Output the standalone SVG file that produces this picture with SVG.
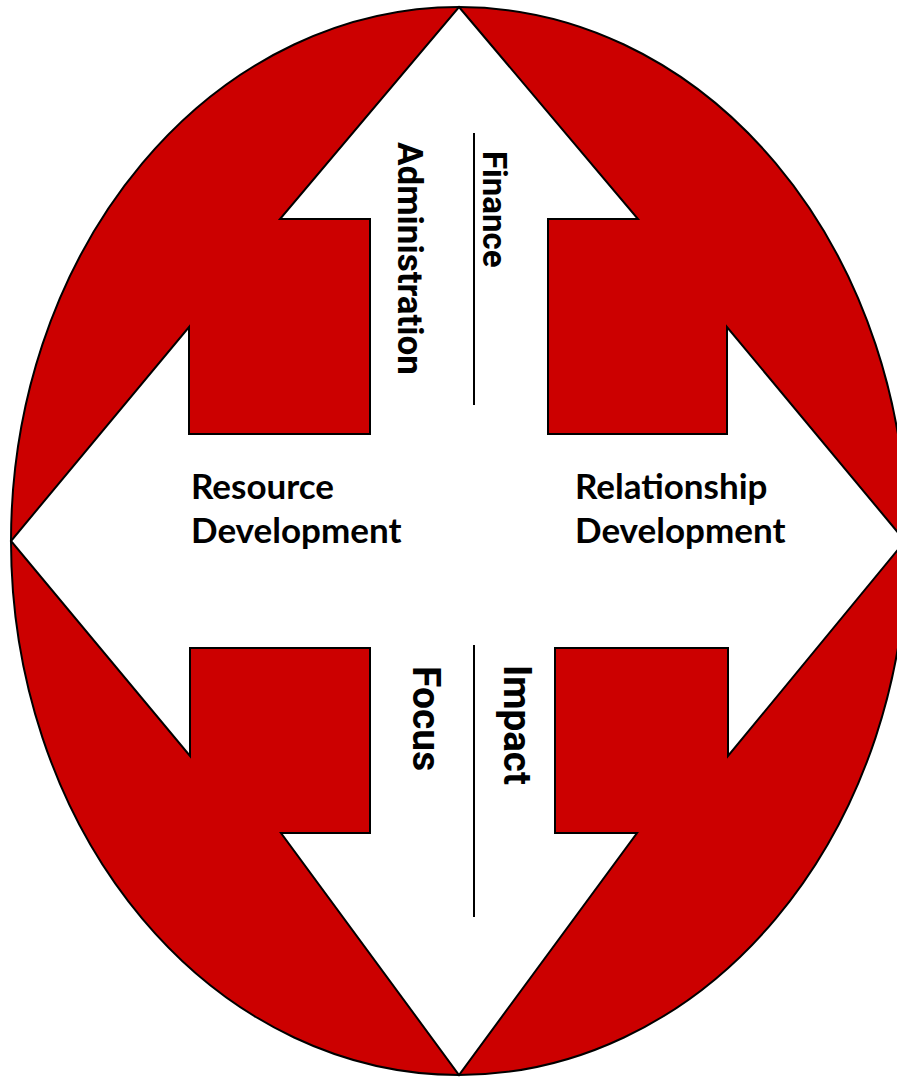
<svg xmlns="http://www.w3.org/2000/svg" width="897" height="1078" viewBox="0 0 897 1078">
  <style>
    .field { fill: #cc0000; stroke: #000; stroke-width: 2; }
    .cross { fill: #fff; stroke: #000; stroke-width: 2; stroke-linejoin: miter; }
    .rule { stroke: #000; stroke-width: 2; fill: none; }
    .hlabel { font-family: Lato, "Liberation Sans", sans-serif; font-weight: 700; font-size: 35px; fill: #000; }
    .vlabel { font-family: Roboto, "Liberation Sans", Arial, sans-serif; font-weight: 700; fill: #000; }
  </style>
  <rect width="897" height="1078" fill="#fff"/>

  <!-- red oval background -->
  <g id="oval">
    <ellipse class="field" cx="459" cy="541" rx="448" ry="534"/>
  </g>

  <!-- white four-way arrow -->
  <g id="cross-arrow">
    <polygon class="cross" points="459,7 638,219 548,219 548,434 727,434 727,327 905,541 728,756 728,648 555,648 555,833 637,833 459,1075 281,833 370,833 370,648 190,648 190,756 11,541 189,327 189,434 370,434 370,219 280,219"/>
  </g>

  <!-- divider rules in the vertical shaft -->
  <g id="connectors">
    <line class="rule" x1="474" y1="133" x2="474" y2="405"/>
    <line class="rule" x1="474" y1="645" x2="474" y2="917"/>
  </g>

  <g id="resource-development">
    <text class="hlabel" x="191" y="499">Resource</text>
    <text class="hlabel" x="191" y="543">Development</text>
  </g>

  <g id="relationship-development">
    <text class="hlabel" x="575" y="499">Relationship</text>
    <text class="hlabel" x="575" y="543">Development</text>
  </g>

  <g id="finance">
    <text class="vlabel" font-size="33" transform="translate(483,151) rotate(90)">Finance</text>
  </g>

  <g id="administration">
    <text class="vlabel" font-size="35" transform="translate(398,142) rotate(90)">Administration</text>
  </g>

  <g id="focus">
    <text class="vlabel" font-size="39" transform="translate(413,666) rotate(90)">Focus</text>
  </g>

  <g id="impact">
    <text class="vlabel" font-size="38.5" transform="translate(504,665) rotate(90)">Impact</text>
  </g>
</svg>
